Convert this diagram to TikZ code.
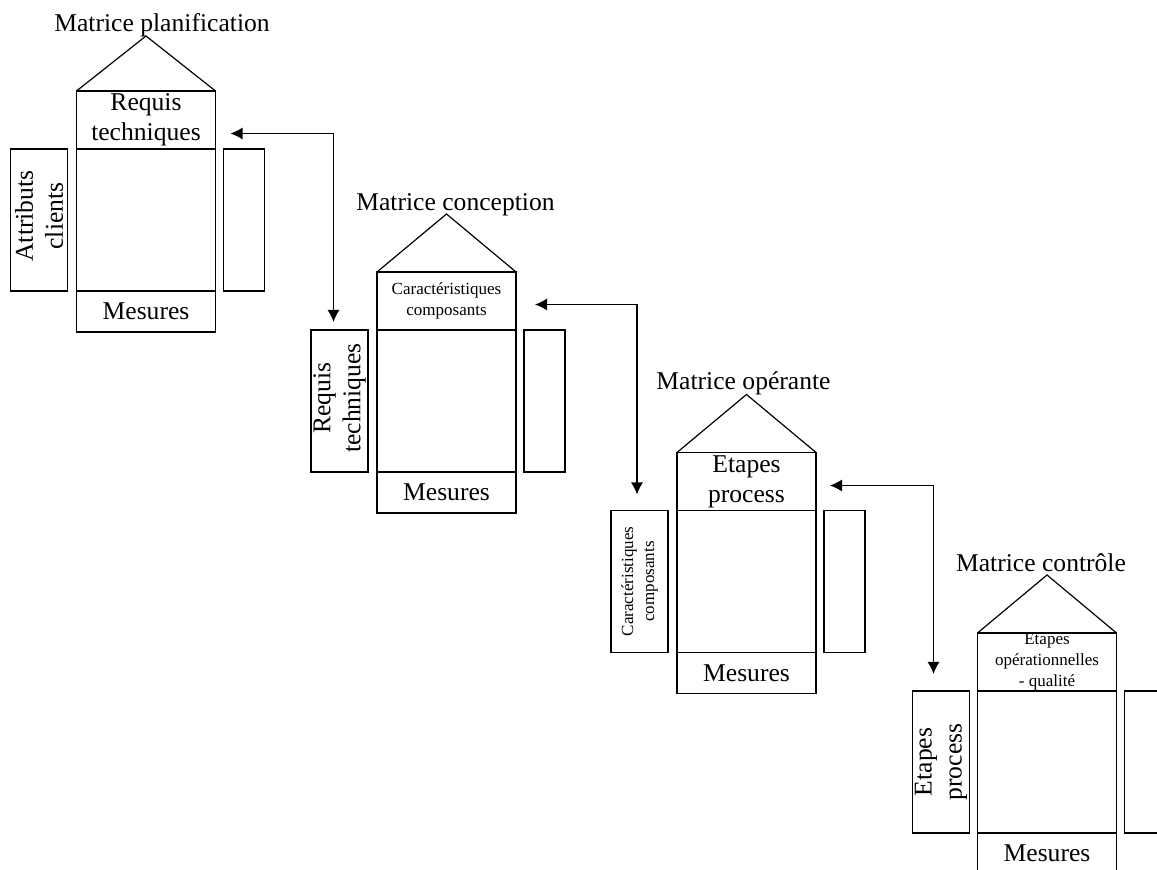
\documentclass[tikz,border=0pt]{standalone}
\usepackage{fontspec}
\setmainfont{Liberation Serif}
\usetikzlibrary{positioning, arrows.meta}

\newcommand{\mxbig}{\fontsize{12.8}{15}\selectfont}
\newcommand{\mxsmall}{\fontsize{8.5}{10.5}\selectfont}

\begin{document}
\begin{tikzpicture}[x = 0.5pt, y = -0.5pt, line width = 0.6pt]

  \tikzstyle{box}=[draw, inner sep=0pt, outer sep=0pt, align=center, font=\mxbig]
  \tikzstyle{head}=[box, minimum width=69.5pt, minimum height=29pt]
  \tikzstyle{body}=[box, minimum width=69.5pt, minimum height=71pt]
  \tikzstyle{foot}=[box, minimum width=69.5pt, minimum height=20.5pt]
  \tikzstyle{lside}=[box, minimum width=28.5pt, minimum height=71pt]
  \tikzstyle{rside}=[box, minimum width=20.5pt, minimum height=71pt]
  \tikzstyle{vtext}=[rotate=90, inner sep=0pt, align=center, font=\mxbig]
  \tikzstyle{title}=[inner sep=0pt, text depth=0pt, font=\mxbig]
  \tikzstyle{link}=[{Latex[length=6pt, width=6pt]}-{Latex[length=6pt, width=6pt]}]

  \clip (0, 0) rectangle (1157, 870);

  % matrice planification
  \node [body] (B1) at (146, 220) {};
  \node [head, above = 0pt of B1] (H1) {Requis\\techniques};
  \node [foot, below = 0pt of B1] (F1) {Mesures};
  \node [lside, left = 4.5pt of B1] (L1) {};
  \node [rside, right = 4pt of B1] (S1) {};
  \node [vtext, xshift=2pt] (L1t) at (L1) {Attributs\\clients};
  \coordinate [above = 27.5pt of H1.north] (R1);
  \draw (H1.north west) -- (R1) -- (H1.north east);
  \node [title, above = 2pt of R1, xshift=8pt] (T1) {Matrice planification};
  \draw [line width=1.2pt] (B1.south west) -- (B1.south east);

  % matrice conception
  \node [body] (B2) at (446.5, 401) {};
  \node [head, above = 0pt of B2, font=\mxsmall] (H2) {Caractéristiques\\composants};
  \node [foot, below = 0pt of B2] (F2) {Mesures};
  \node [lside, left = 4.5pt of B2] (L2) {};
  \node [rside, right = 4pt of B2] (S2) {};
  \node [vtext, xshift=1.5pt] (L2t) at (L2) {Requis\\techniques};
  \coordinate [above = 29pt of H2.north] (R2);
  \draw (H2.north west) -- (R2) -- (H2.north east);
  \node [title, above = 1.5pt of R2, xshift=4.5pt] (T2) {Matrice conception};

  % matrice operante
  \node [body] (B3) at (746.5, 581.5) {};
  \node [head, above = 0pt of B3] (H3) {Etapes\\process};
  \node [foot, below = 0pt of B3] (F3) {Mesures};
  \node [lside, left = 4.5pt of B3] (L3) {};
  \node [rside, right = 4pt of B3] (S3) {};
  \node [vtext, font=\mxsmall] (L3t) at (L3) {Caractéristiques\\composants};
  \coordinate [above = 29pt of H3.north] (R3);
  \draw (H3.north west) -- (R3) -- (H3.north east);
  \node [title, above = 2pt of R3, xshift=-1.5pt] (T3) {Matrice opérante};

  % matrice controle
  \node [body] (B4) at (1047, 762) {};
  \node [head, above = 0pt of B4, font=\mxsmall] (H4) {Etapes\\opérationnelles\\- qualité};
  \node [foot, below = 0pt of B4] (F4) {Mesures};
  \node [lside, left = 4pt of B4] (L4) {};
  \node [rside, right = 4pt of B4] (S4) {};
  \node [vtext] (L4t) at (L4) {Etapes\\process};
  \coordinate [above = 29pt of H4.north] (R4);
  \draw (H4.north west) -- (R4) -- (H4.north east);
  \node [title, above = 1.5pt of R4, xshift=-3pt] (T4) {Matrice contrôle};

  % links
  \coordinate [right = 7.5pt of H1.east, yshift=-6.75pt] (A1);
  \coordinate [above = 4pt of L2.north, xshift=-3pt] (C1);
  \coordinate [right = 9.5pt of H2.east, yshift=-1.75pt] (A2);
  \coordinate [above = 8pt of L3.north, xshift=-1.25pt] (C2);
  \coordinate [right = 7pt of H3.east, yshift=-2pt] (A3);
  \coordinate [above = 8.5pt of L4.north, xshift=-3.75pt] (C3);

  \draw [link] (A1) -| (C1);
  \draw [link] (A2) -| (C2);
  \draw [link] (A3) -| (C3);
\end{tikzpicture}
\end{document}
